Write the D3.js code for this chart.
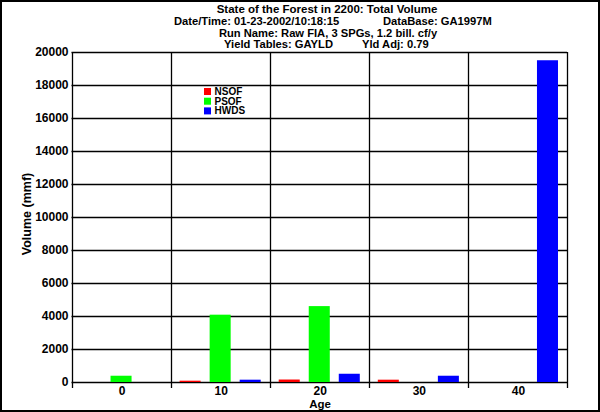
<!DOCTYPE html>
<html><head><meta charset="utf-8">
<script src="https://cdn.jsdelivr.net/npm/d3@7"></script>
<style>
body{margin:0;background:#fff;}
svg{display:block;}
text{font-family:"Liberation Sans",Arial,sans-serif;font-weight:bold;fill:#000;}
</style></head><body>
<script>
const ages = ["0","10","20","30","40"];
const seriesNames = ["NSOF","PSOF","HWDS"];
const seriesColors = ["#ff0000","#00ff00","#0000ff"];
const NSOF = [0, 80, 150, 140, 0];
const PSOF = [380, 4080, 4600, 0, 0];
const HWDS = [0, 140, 500, 380, 19500];
const yTicks = [0,2000,4000,6000,8000,10000,12000,14000,16000,18000,20000];
const titleLines = ["State of the Forest in 2200: Total Volume","Run Name: Raw FIA, 3 SPGs, 1.2 bill. cf/y"];
const dateText = "Date/Time: 01-23-2002/10:18:15";
const dbText = "DataBase: GA1997M";
const yieldText = "Yield Tables: GAYLD";
const adjText = "Yld Adj: 0.79";

const W=600,H=412;
const svg=d3.select("body").append("svg").attr("width",W).attr("height",H);
svg.append("rect").attr("x",1).attr("y",1).attr("width",W-2).attr("height",H-2)
  .attr("fill","#fff").attr("stroke","#000").attr("stroke-width",2);

const pL=71.5,pR=567,pT=52,pB=382;
const x0=d3.scaleBand().domain(ages).range([pL,pR]).padding(0);
const x1=d3.scaleBand().domain(seriesNames).range([0,x0.bandwidth()]).paddingInner(9/30).paddingOuter(0.3);
const y=d3.scaleLinear().domain([0,20000]).range([pB,pT]);

// horizontal grid
svg.append("g").selectAll("line").data(yTicks).join("line")
  .attr("x1",pL).attr("x2",pR).attr("y1",d=>Math.round(y(d))+0.5).attr("y2",d=>Math.round(y(d))+0.5)
  .attr("stroke","#000").attr("stroke-width",1.3);
// vertical band boundaries
const bounds=ages.map(a=>x0(a)).concat([pR]);
svg.append("g").selectAll("line").data(bounds).join("line")
  .attr("x1",d=>Math.round(d)+0.5).attr("x2",d=>Math.round(d)+0.5).attr("y1",pT).attr("y2",pB+6)
  .attr("stroke","#000").attr("stroke-width",1.3);

// y tick labels
svg.append("g").selectAll("text").data(yTicks).join("text")
  .attr("x",68.5).attr("y",d=>y(d)+4).attr("text-anchor","end").style("font-size","12px").text(d=>d);

// bars
const data=ages.map((a,i)=>({age:a,vals:[NSOF[i],PSOF[i],HWDS[i]]}));
const g=svg.append("g").selectAll("g").data(data).join("g").attr("transform",d=>`translate(${x0(d.age)},0)`);
g.selectAll("rect").data(d=>d.vals.map((v,j)=>({s:seriesNames[j],v,c:seriesColors[j]})).filter(e=>e.v>0))
  .join("rect").attr("x",e=>x1(e.s)).attr("width",x1.bandwidth())
  .attr("y",e=>y(e.v)).attr("height",e=>pB-y(e.v)).attr("fill",e=>e.c);

// x tick labels
svg.append("g").selectAll("text").data(ages).join("text")
  .attr("x",d=>x0(d)+x0.bandwidth()/2+1).attr("y",394.5).attr("text-anchor","middle").style("font-size","12px").text(d=>d);
svg.append("text").attr("x",320).attr("y",408.3).attr("text-anchor","middle").style("font-size","11.5px").text("Age");

// y label
svg.append("text").attr("transform","translate(31,214) rotate(-90)").attr("text-anchor","middle").style("font-size","12.5px").text("Volume (mmf)");

// titles
svg.append("text").attr("x",327).attr("y",12.5).attr("text-anchor","middle").style("font-size","11.5px").text(titleLines[0]);
svg.append("text").attr("x",174).attr("y",25).style("font-size","11.2px").text(dateText);
svg.append("text").attr("x",383).attr("y",25).style("font-size","11.2px").text(dbText);
svg.append("text").attr("x",328).attr("y",36.5).attr("text-anchor","middle").style("font-size","11.2px").text(titleLines[1]);
svg.append("text").attr("x",224).attr("y",48).style("font-size","11.2px").text(yieldText);
svg.append("text").attr("x",362).attr("y",48).style("font-size","11.2px").text(adjText);

// legend
const lg=svg.append("g").selectAll("g").data(seriesNames).join("g").attr("transform",(d,i)=>`translate(204,${88+i*9.7})`);
lg.append("rect").attr("width",7).attr("height",7).attr("fill",(d,i)=>seriesColors[i]);
lg.append("text").attr("x",10.5).attr("y",7).style("font-size","10px").text(d=>d);
</script>
</body></html>
